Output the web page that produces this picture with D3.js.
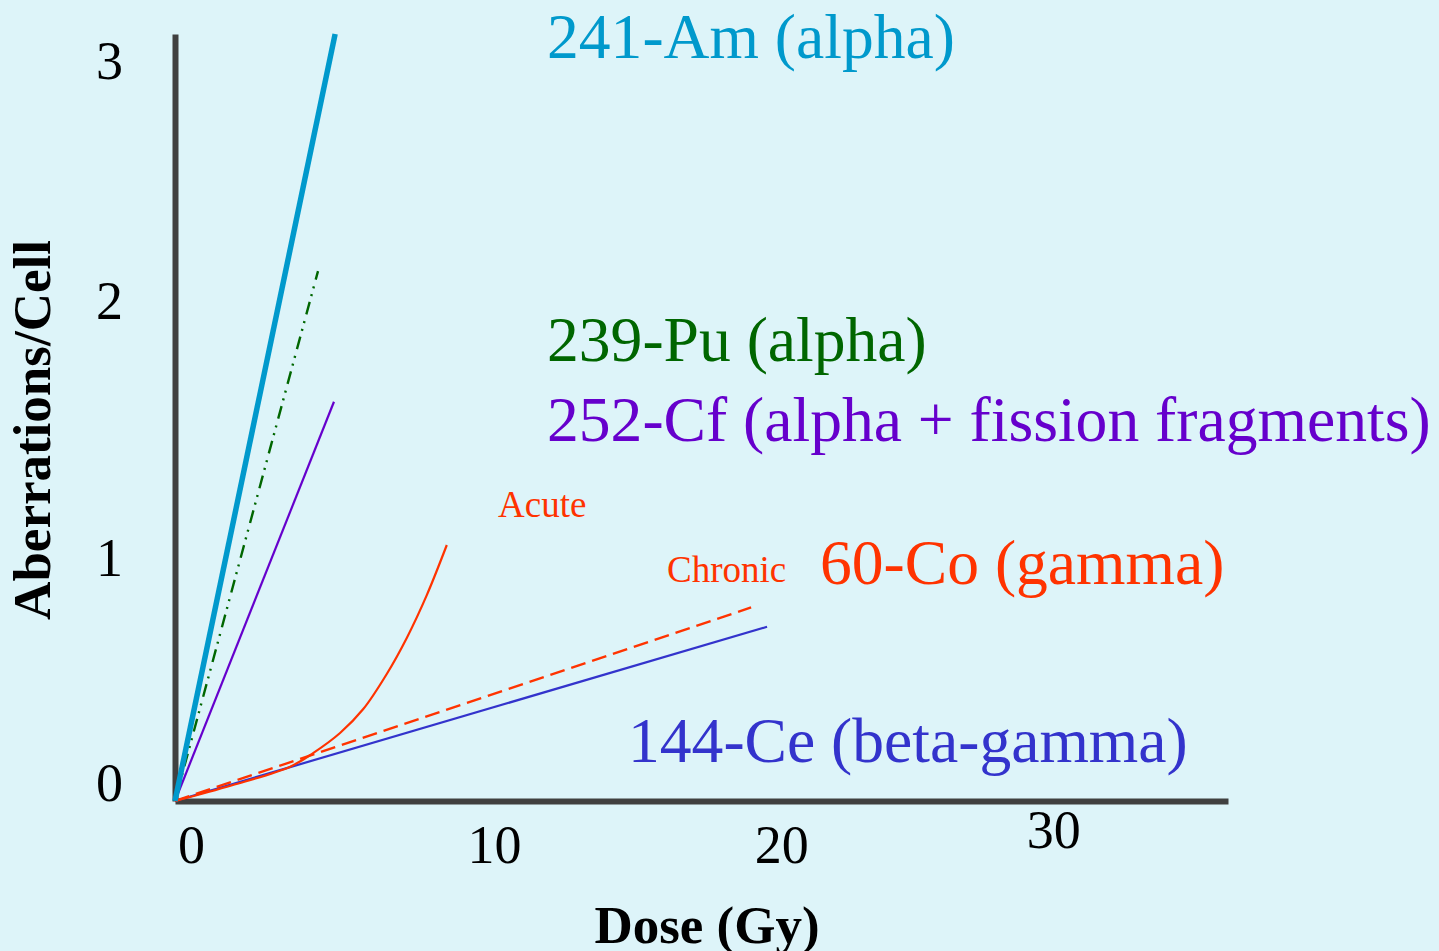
<!DOCTYPE html>
<html>
<head>
<meta charset="utf-8">
<title>Aberrations per cell vs dose</title>
<script src="https://d3js.org/d3.v7.min.js"></script>
<style>
  body { margin: 0; background: #ddf4f9; }
  svg { display: block; }
  text { font-family: "Liberation Serif", "Times New Roman", serif; }
</style>
</head>
<body>
<div id="chart"></div>
<script>
// values: [dose (Gy), aberrations per cell]
var am241 = [[0, 0], [5.52, 3.17]];
var pu239 = [[0, 0], [4.93, 2.19]];
var cf252 = [[0, 0], [5.48, 1.65]];
var co60Acute = [[0, 0], [1.97, 0.065], [3.97, 0.142], [4.76, 0.198], [5.69, 0.281],
                 [6.49, 0.38], [7.3, 0.525], [7.99, 0.674], [8.68, 0.851], [9.37, 1.058]];
var co60Chronic = [[0, 0], [19.86, 0.8]];
var ce144 = [[0, 0], [20.41, 0.72]];

var xTicks = [0, 10, 20, 30];
var yTicks = [0, 1, 2, 3];

// svg size and plot area
var width = 1439, height = 951;
var x0 = 175, y0 = 801;

var x = d3.scaleLinear().domain([0, 36.3]).range([x0, 1228]);
var y = d3.scaleLinear().domain([0, 3.17]).range([y0, 34]);

var svg = d3.select("#chart").append("svg")
    .attr("width", width)
    .attr("height", height);

svg.append("rect")
    .attr("width", width)
    .attr("height", height)
    .attr("fill", "#ddf4f9");

// tick labels in the original are not quite aligned, nudge them a bit
var xNudge = { 0: 16, 10: 29, 20: 26, 30: 8 };
var xLift = { 0: 0, 10: 0, 20: 0, 30: -15 };
var yNudge = { 0: -19, 1: -2, 2: -17, 3: -15 };

var xAxis = svg.append("g")
    .attr("transform", "translate(0," + y0 + ")")
    .call(d3.axisBottom(x).tickValues(xTicks).tickFormat(d3.format("d"))
        .tickSize(0).tickSizeOuter(0).tickPadding(0));
xAxis.select(".domain")
    .attr("stroke", "#404040")
    .attr("stroke-width", 6);
xAxis.selectAll(".tick text")
    .attr("font-family", "Liberation Serif")
    .attr("font-size", 54)
    .attr("fill", "#000")
    .attr("dy", null)
    .attr("x", function (d) { return xNudge[d]; })
    .attr("y", function (d) { return 62 + xLift[d]; });

var yAxis = svg.append("g")
    .attr("transform", "translate(" + x0 + ",0)")
    .call(d3.axisLeft(y).tickValues(yTicks).tickFormat(d3.format("d"))
        .tickSize(0).tickSizeOuter(0).tickPadding(52));
yAxis.select(".domain")
    .attr("stroke", "#404040")
    .attr("stroke-width", 6);
yAxis.selectAll(".tick text")
    .attr("font-family", "Liberation Serif")
    .attr("font-size", 54)
    .attr("fill", "#000")
    .attr("dy", "0.34em")
    .attr("y", function (d) { return yNudge[d]; });

// curves
var line = d3.line()
    .x(function (d) { return x(d[0]); })
    .y(function (d) { return y(d[1]); });

var curves = [
    { data: ce144, color: "#3333cc", w: 2.2, dash: null },
    { data: co60Chronic, color: "#ff3300", w: 2.4, dash: "15,7" },
    { data: co60Acute, color: "#ff3300", w: 2.2, dash: null, smooth: true },
    { data: cf252, color: "#6600cc", w: 2.2, dash: null },
    { data: pu239, color: "#006600", w: 2.4, dash: "13,6,2,6,2,7" },
    { data: am241, color: "#0099cc", w: 5.5, dash: null }
];

curves.forEach(function (c) {
    var gen = c.smooth ? line.curve(d3.curveCatmullRom.alpha(0.5)) : line.curve(d3.curveLinear);
    svg.append("path")
        .datum(c.data)
        .attr("d", gen)
        .attr("fill", "none")
        .attr("stroke", c.color)
        .attr("stroke-width", c.w)
        .attr("stroke-dasharray", c.dash);
});

// series labels
var labels = [
    { t: "241-Am (alpha)", c: "#0099cc", x: 547, y: 58, s: 63.6 },
    { t: "239-Pu (alpha)", c: "#006600", x: 547, y: 361, s: 63.6 },
    { t: "252-Cf (alpha + fission fragments)", c: "#6600cc", x: 547, y: 441, s: 63.6 },
    { t: "60-Co (gamma)", c: "#ff3300", x: 820, y: 584, s: 63.6 },
    { t: "144-Ce (beta-gamma)", c: "#3333cc", x: 628, y: 762, s: 63.6 },
    { t: "Acute", c: "#ff3300", x: 498, y: 517, s: 37 },
    { t: "Chronic", c: "#ff3300", x: 667, y: 582, s: 37 }
];

svg.selectAll(".lbl")
    .data(labels)
    .enter().append("text")
    .attr("class", "lbl")
    .attr("x", function (d) { return d.x; })
    .attr("y", function (d) { return d.y; })
    .attr("font-size", function (d) { return d.s; })
    .attr("fill", function (d) { return d.c; })
    .text(function (d) { return d.t; });

// axis titles
svg.append("text")
    .attr("transform", "translate(50,430) rotate(-90)")
    .attr("text-anchor", "middle")
    .attr("font-size", 53)
    .attr("font-weight", "bold")
    .attr("fill", "#000")
    .text("Aberrations/Cell");

svg.append("text")
    .attr("x", 707)
    .attr("y", 943)
    .attr("text-anchor", "middle")
    .attr("font-size", 53)
    .attr("font-weight", "bold")
    .attr("fill", "#000")
    .text("Dose (Gy)");
</script>
</body>
</html>
